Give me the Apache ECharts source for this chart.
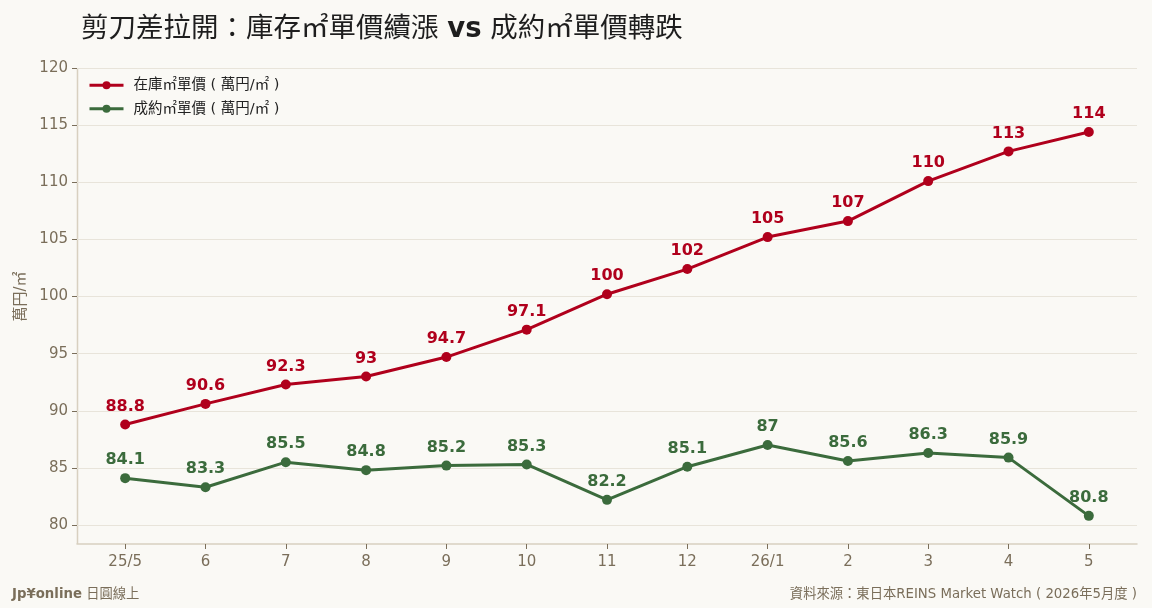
<!DOCTYPE html>
<html lang="zh-Hant">
<head>
<meta charset="utf-8">
<script src="https://cdn.jsdelivr.net/npm/echarts@6/dist/echarts.min.js"></script>
<style>
    html, body { margin: 0; padding: 0; background: #faf9f5; }
    #main { width: 1152px; height: 608px; }
</style>
</head>
<body>
<div id="main" lang="zh-Hant"></div>
<script>
// 月份
var months = ['25/5', '6', '7', '8', '9', '10', '11', '12', '26/1', '2', '3', '4', '5'];
// 在庫㎡單價
var stockPrice = [88.8, 90.6, 92.3, 93.0, 94.7, 97.1, 100.2, 102.4, 105.2, 106.6, 110.1, 112.7, 114.4];
// 成約㎡單價
var dealPrice = [84.1, 83.3, 85.5, 84.8, 85.2, 85.3, 82.2, 85.1, 87.0, 85.6, 86.3, 85.9, 80.8];

var RED = '#b0001c', GREEN = '#3b6b3c';
var TXT = '#7a6e5a';
var FONT = '"DejaVu Sans", "Noto Sans CJK TC", sans-serif';

function pairs(arr) {
    var out = [];
    for (var i = 0; i < arr.length; i++) out.push([i, arr[i]]);
    return out;
}
function fmt(p) {
    return String(Number(p.value[1].toPrecision(3)));
}
var idx = months.map(function (m, i) { return i; });

var myChart = echarts.init(document.getElementById('main'));

var option = {
    backgroundColor: '#faf9f5',
    textStyle: { fontFamily: FONT },
    title: {
        left: 76,
        top: 11,
        text: '{a|剪刀差拉開：庫存㎡單價續漲 }{b|vs}{a| 成約㎡單價轉跌}',
        textStyle: {
            fontWeight: 'normal',
            rich: {
                a: { fontSize: 27.5, color: '#1e1e1e', fontWeight: 'normal', fontFamily: FONT },
                b: { fontSize: 27.5, color: '#1e1e1e', fontWeight: 'bold', fontFamily: FONT }
            }
        }
    },
    legend: {
        orient: 'vertical',
        left: 88,
        top: 78,
        padding: 0,
        itemWidth: 34,
        itemHeight: 10,
        itemGap: 9,
        lineStyle: { width: 3 },
        textStyle: { fontSize: 14.5, color: '#222', fontFamily: FONT, padding: [0, 0, 0, 5] },
        data: ['在庫㎡單價 ( 萬円/㎡ )', '成約㎡單價 ( 萬円/㎡ )']
    },
    grid: { left: 77, right: 15, top: 68, bottom: 83 },
    xAxis: {
        type: 'value',
        min: -0.6,
        max: 12.6,
        offset: 19,
        splitLine: { show: false },
        axisLine: { show: true, lineStyle: { color: '#d8d0c0', width: 1.5 } },
        axisTick: { show: true, customValues: idx, length: 5, lineStyle: { color: TXT } },
        axisLabel: {
            customValues: idx,
            color: TXT,
            fontSize: 15,
            margin: 11,
            formatter: function (v) { return months[Math.round(v)]; }
        }
    },
    yAxis: {
        type: 'value',
        min: 80,
        max: 120,
        interval: 5,
        name: '萬円/㎡',
        nameLocation: 'middle',
        nameGap: 39,
        nameTextStyle: { color: TXT, fontSize: 15 },
        axisLine: { show: false, onZero: false },
        axisTick: { show: true, length: 5, lineStyle: { color: TXT } },
        axisLabel: { color: TXT, fontSize: 15, margin: 9 },
        splitLine: { lineStyle: { color: '#e8e4da' } }
    },
    graphic: [
        { type: 'line', shape: { x1: 77.5, y1: 68, x2: 77.5, y2: 544 }, style: { stroke: '#d8d0c0', lineWidth: 1.5 } },
        {
            type: 'text', left: 12, top: 588,
            style: {
                text: '{b|Jp¥online} 日圓線上',
                fill: TXT, fontSize: 13.3, fontFamily: FONT,
                rich: { b: { fontWeight: 'bold', fontSize: 13.3, fill: TXT, fontFamily: FONT } }
            }
        },
        { type: 'text', right: 15, top: 588, style: { text: '資料來源：東日本REINS Market Watch ( 2026年5月度 )', fill: TXT, fontSize: 13.3, fontFamily: FONT } }
    ],
    series: [
        {
            name: '在庫㎡單價 ( 萬円/㎡ )',
            type: 'line',
            data: pairs(stockPrice),
            color: RED,
            symbol: 'circle',
            symbolSize: 10,
            lineStyle: { width: 3 },
            label: { show: true, position: 'top', distance: 5, color: RED, fontSize: 16, fontWeight: 'bold', formatter: fmt }
        },
        {
            name: '成約㎡單價 ( 萬円/㎡ )',
            type: 'line',
            data: pairs(dealPrice),
            color: GREEN,
            symbol: 'circle',
            symbolSize: 10,
            lineStyle: { width: 3 },
            label: { show: true, position: 'top', distance: 5, color: GREEN, fontSize: 16, fontWeight: 'bold', formatter: fmt }
        }
    ]
};

myChart.setOption(option);
</script>
</body>
</html>
